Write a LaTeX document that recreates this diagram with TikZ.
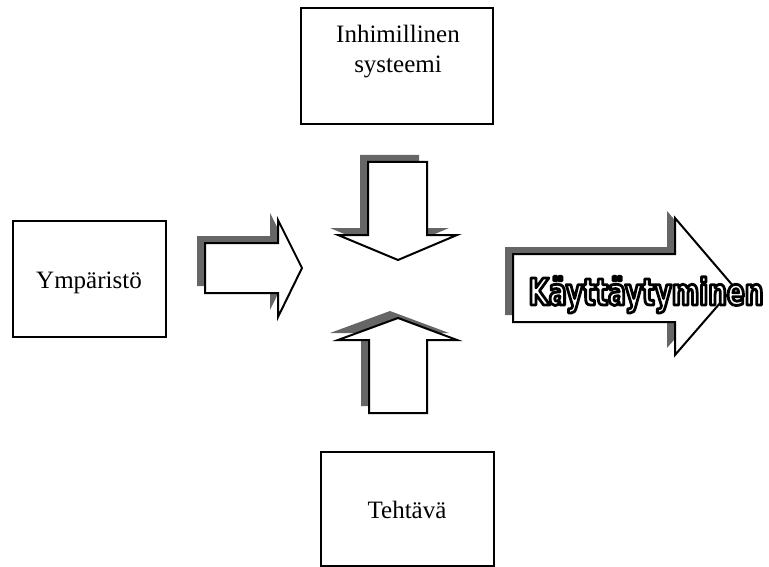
\documentclass[tikz,border=0pt]{standalone}
\usepackage{fontspec}
\setmainfont{Liberation Serif}
\newfontfamily\wafont[FakeStretch=0.71]{DejaVu Sans}
\newcommand\outlinetext[1]{%
  \special{pdf:literal direct q}%
  {\color{white}\special{pdf:literal direct 0 G 2 Tr 2.8 w 1 j}#1}%
  \special{pdf:literal direct Q}}
\newcommand\shadowarrow[1]{%
  \fill[arrowshadow,shift={(-8,-7)}] #1;
  \filldraw[arrowbody] #1;}
\begin{document}
\begin{tikzpicture}[x=1pt,y=-1pt,
  box/.style={draw=black,line width=2pt},
  lbl/.style={font=\fontsize{25}{30}\selectfont,inner sep=0pt,anchor=base},
  arrowbody/.style={draw=black,line width=2pt,fill=white,line join=miter},
  arrowshadow/.style={fill=black!60}]
\useasboundingbox (0,0) rectangle (769,567);
% boxes
\draw[box] (301,8) rectangle (493,124);
\draw[box] (13,221) rectangle (166,337);
\draw[box] (321,452) rectangle (494,566);
\node[lbl] (sys1) at (398,43) {Inhimillinen};
\node[lbl] (sys2) at (398,73) {systeemi};
\node[lbl] (env) at (89,288) {Ympäristö};
\node[lbl] (task) at (407,518) {Tehtävä};
% arrows
\shadowarrow{(205,243) -- (278,243) -- (278,220) -- (302,268) -- (278,317) -- (278,293) -- (205,293) -- cycle}
\shadowarrow{(368,162) -- (427,162) -- (427,235) -- (457,235) -- (398,260) -- (338,235) -- (368,235) -- cycle}
\shadowarrow{(398,318) -- (457,340) -- (427,340) -- (427,413) -- (369,413) -- (369,340) -- (338,340) -- cycle}
\shadowarrow{(513,254) -- (675,254) -- (675,218) -- (734,287) -- (675,355) -- (675,322) -- (513,322) -- cycle}
\node[inner sep=0pt,anchor=base,font=\wafont\bfseries\fontsize{37}{42}\selectfont] (beh) at (646,305)
  {\outlinetext{Käyttäytyminen}};
\end{tikzpicture}
\end{document}
